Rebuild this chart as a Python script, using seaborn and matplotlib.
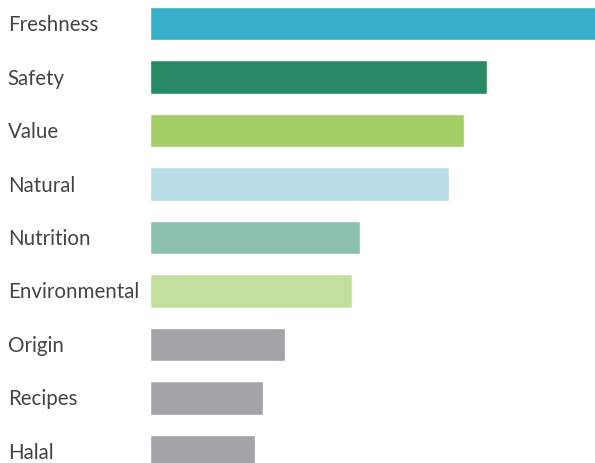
import matplotlib
matplotlib.use("Agg")
import matplotlib.pyplot as plt
import matplotlib.transforms as mtransforms
import seaborn as sns
import pandas as pd

categories = ["Freshness", "Safety", "Value", "Natural", "Nutrition",
              "Environmental", "Origin", "Recipes", "Halal"]
shares = [68.0, 50.0, 46.6, 44.4, 31.2, 30.0, 20.0, 16.8, 15.6]
colors = ["#38AFC9", "#288A64", "#A2CF66", "#B8DDE6", "#8DC1AE",
          "#C2DF9E", "#A2A4A8", "#A2A4A8", "#A2A4A8"]

sns.set_theme(style="white")
plt.rcParams["font.family"] = ["Lato", "DejaVu Sans"]

df = pd.DataFrame({"category": categories, "share": shares})

fig = plt.figure(figsize=(5.95, 4.64), dpi=100)
ax = fig.add_axes([150 / 595, 0, 445 / 595, 1])

sns.barplot(data=df, x="share", y="category", hue="category",
            palette=colors, order=categories, hue_order=categories,
            orient="h", width=0.617, legend=False, ax=ax, saturation=1)

ax.set_xlim(0, 66)
ax.set_ylim(8.215, -0.458)
ax.set_xlabel("")
ax.set_ylabel("")
ax.set_xticks([])
for s in ax.spines.values():
    s.set_visible(False)

ax.tick_params(axis="y", length=0, pad=102.5, labelsize=14.8, labelcolor="#444444")
# nudge the category labels up slightly so they sit level with the bars
lift = mtransforms.ScaledTranslation(0, 1.5 / 100, fig.dpi_scale_trans)
for lbl in ax.get_yticklabels():
    lbl.set_horizontalalignment("left")
    lbl.set_transform(lbl.get_transform() + lift)

fig.savefig("out.png", dpi=100)
